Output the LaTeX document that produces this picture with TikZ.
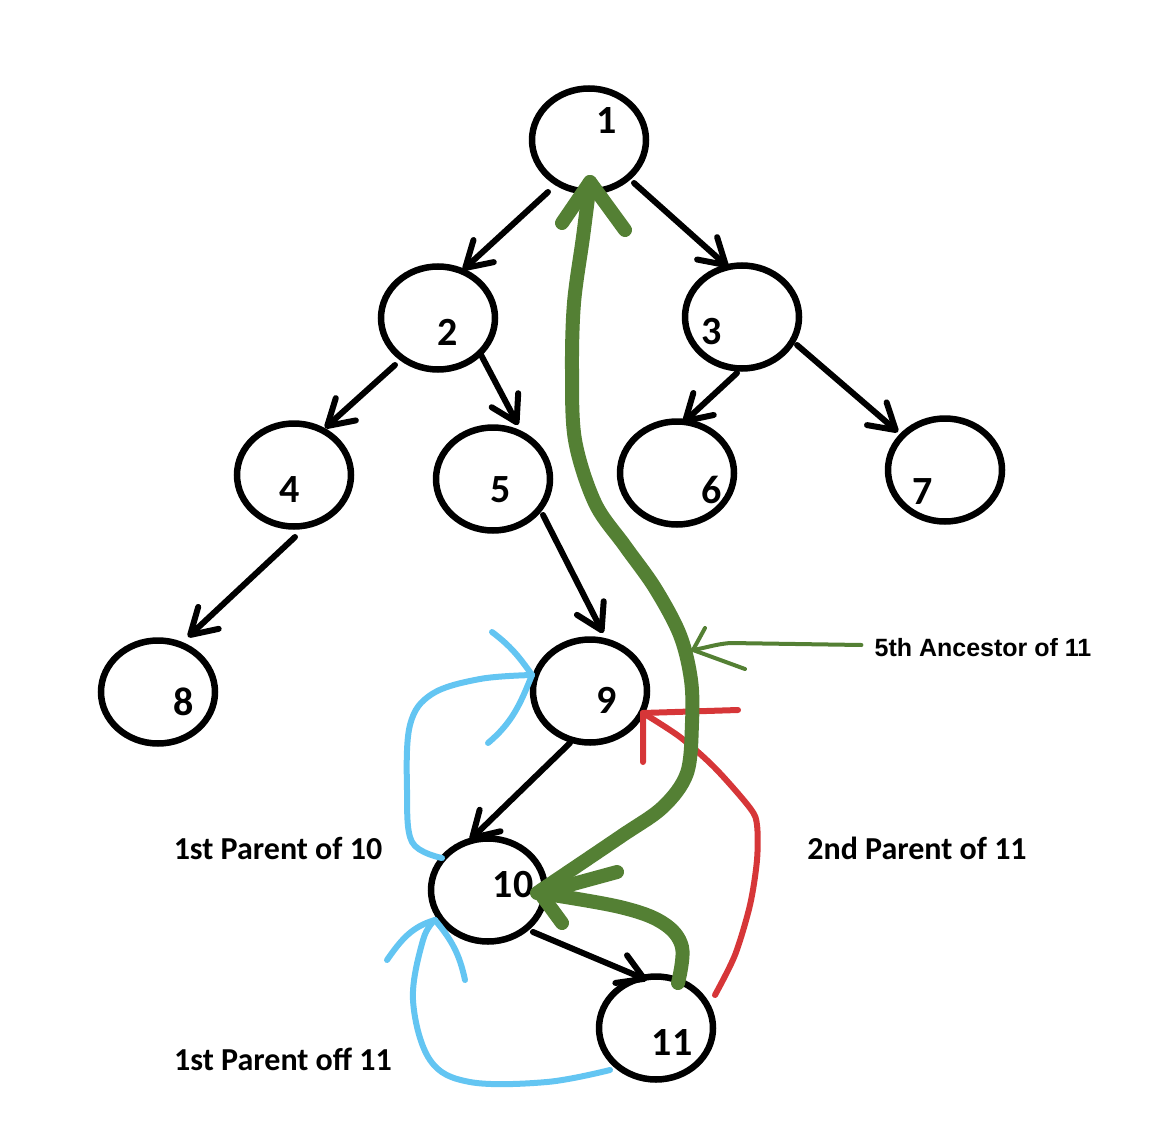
\documentclass[tikz,border=0pt]{standalone}
\usepackage{fontspec}
\setmainfont{Carlito}
\newfontfamily\arialfont{Liberation Sans}
\usetikzlibrary{arrows.meta,calc,shapes.geometric}
\definecolor{grn}{RGB}{84,128,52}
\definecolor{rdc}{RGB}{214,54,56}
\definecolor{bluc}{RGB}{99,197,242}
\newcommand\digfont{\fontsize{40}{40}\selectfont\bfseries}
\newcommand\labfont{\fontsize{32}{32}\selectfont\bfseries}
\newcommand\ancfont{\arialfont\fontsize{25}{25}\selectfont\bfseries}
\begin{document}
\begin{tikzpicture}[x=1pt,y=-1pt,
  vtx/.style={draw,ellipse,line width=6.5pt,minimum width=114pt,minimum height=103pt,inner sep=0pt},
  dig/.style={font=\digfont,inner sep=0pt},
  blk/.style={line width=6pt,line cap=round,-{Straight Barb[length=25pt,width=30pt,round]}},
  gthick/.style={grn,line width=14pt,line cap=round,line join=round},
  gthin/.style={grn,line width=4pt,line cap=round,line join=round},
  redl/.style={rdc,line width=6pt,line cap=round,line join=round},
  bluel/.style={bluc,line width=6pt,line cap=round,line join=round},
  lab/.style={font=\labfont,inner sep=0pt},
  anc/.style={font=\ancfont,inner sep=0pt}]
\useasboundingbox (0,0) rectangle (1154,1132);
% nodes
\node[vtx,label={[dig,xshift=18pt,yshift=19pt]center:1}] (n1) at (589,140) {};
\node[vtx,label={[dig,xshift=10pt,yshift=-14pt]center:2}] (n2) at (438,318) {};
\node[vtx,label={[dig,xshift=-30pt,yshift=-15pt]center:3}] (n3) at (742,317) {};
\node[vtx,label={[dig,xshift=-4pt,yshift=-15pt]center:4}] (n4) at (294,475) {};
\node[vtx,label={[dig,xshift=8pt,yshift=-11pt]center:5}] (n5) at (493,479) {};
\node[vtx,label={[dig,xshift=35pt,yshift=-17pt]center:6}] (n6) at (677,473) {};
\node[vtx,label={[dig,xshift=-22pt,yshift=-22pt]center:7}] (n7) at (945,470) {};
\node[vtx,label={[dig,xshift=26pt,yshift=-10pt]center:8}] (n8) at (158,692) {};
\node[vtx,label={[dig,xshift=17pt,yshift=-9pt]center:9}] (n9) at (590,691) {};
\node[vtx,label={[dig,xshift=25pt,yshift=5pt]center:10}] (n10) at (488,890) {};
\node[vtx,label={[dig,xshift=16pt,yshift=-15pt]center:11}] (n11) at (656,1028) {};
% labels
\node[lab] (p10) at (278,848) {1st Parent of 10};
\node[lab] (p11a) at (283,1059) {1st Parent off 11};
\node[lab] (p11b) at (917,848) {2nd Parent of 11};
\node[anc] (anc) at (983,648) {5th Ancestor of 11};
% tree edges
\draw[blk] ($(n1)+(-41,52)$) -- ($(n2)+(25,-48)$);
\draw[blk] ($(n1)+(45,43)$) -- ($(n3)+(-14,-50)$);
\draw[blk] ($(n2)+(-43,47)$) -- ($(n4)+(31,-47)$);
\draw[blk] ($(n2)+(42,35)$) -- ($(n5)+(25,-54)$);
\draw[blk] ($(n4)+(1,62)$) -- ($(n8)+(30,-55)$);
\draw[blk] ($(n5)+(50,36)$) -- ($(n9)+(13,-58)$);
\draw[blk] ($(n3)+(-5,56)$) -- ($(n6)+(6,-50)$);
\draw[blk] ($(n3)+(55,28)$) -- ($(n7)+(-47,-38)$);
\draw[blk] ($(n9)+(-20,52)$) -- ($(n10)+(-18,-50)$);
\draw[blk] ($(n10)+(45,42)$) -- ($(n11)+(-9,-48)$);
% named ends
\coordinate (g10) at ($(n10)+(49,3)$);
\coordinate (g1) at ($(n1)+(1,42)$);
\coordinate (g11) at ($(n11)+(22,-45)$);
\coordinate (g10b) at ($(n10)+(52,3)$);
\coordinate (r0) at ($(n11)+(59,-33)$);
\coordinate (rt) at ($(n9)+(53,22)$);
\coordinate (b1s) at ($(n10)+(-46,-32)$);
\coordinate (b1t) at ($(n9)+(-58,-16)$);
\coordinate (b2s) at ($(n11)+(-46,42)$);
\coordinate (b2t) at ($(n10)+(-53,30)$);
\coordinate (a0) at ($(anc.west)+(-13,-3)$);
\coordinate (at) at (693,650);
% blue: 1st parent of 10
\draw[bluel] plot[smooth,tension=0.6] coordinates {(b1s) (412,842) (407,790) (410,725) (432,694) (480,679) (b1t)};
\draw[bluel] (b1t) to[out=125,in=-37] ($(b1t)+(-40,-43)$);
\draw[bluel] (b1t) to[out=248,in=40] ($(b1t)+(-44,68)$);
% blue: 1st parent of 11
\draw[bluel] plot[smooth,tension=0.6] coordinates {(b2s) (547,1082) (470,1082) (430,1060) (413,1000) (423,940) (b2t)};
\draw[bluel] (b2t) to[out=196,in=55] ($(b2t)+(-48,40)$);
\draw[bluel] (b2t) to[out=310,in=102] ($(b2t)+(30,60)$);
% red: 2nd parent of 11
\draw[redl] plot[smooth,tension=0.5] coordinates {(r0) (735,955) (750,905) (757,860) (757,825) (750,808) (715,768) (680,737) (rt)};
\draw[redl] ($(rt)+(95,-3)$) -- (rt) -- ($(rt)+(0,49)$);
% green: 5th ancestor
\draw[gthick] plot[smooth,tension=0.55] coordinates {(g10) (620,837) (663,807) (687,773) (692,723) (691,680) (680,635) (655,588) (625,546) (595,503) (575,440) (572,370) (574,303) (583,237) (g1)};
\draw[gthick] ($(g1)+(-28,41)$) -- (g1) -- ($(g1)+(35,48)$);
\draw[gthick] plot[smooth,tension=0.6] coordinates {(g11) (682,947) (663,923) (620,907) (g10b)};
\draw[gthick] ($(g10b)+(77,-21)$) -- (g10b) -- ($(g10b)+(22,30)$);
\draw[gthin] (a0) -- (730,643) to[out=185,in=10] (at);
\draw[gthin] ($(at)+(12,-22)$) -- (at) -- ($(at)+(52,19)$);
\end{tikzpicture}
\end{document}
